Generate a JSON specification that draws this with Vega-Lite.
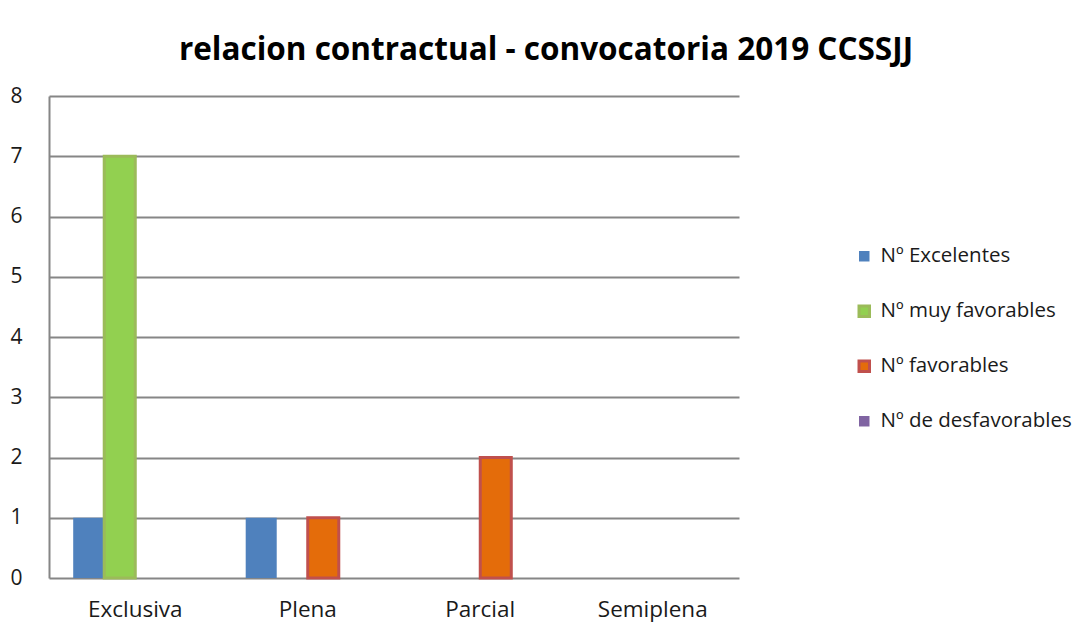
{
  "$schema": "https://vega.github.io/schema/vega-lite/v6.json",
  "width": 690,
  "height": 482,
  "autosize": {"type": "none"},
  "padding": {"left": 49, "top": 96, "right": 337, "bottom": 52},
  "background": "white",
  "title": {
    "text": "relacion contractual - convocatoria 2019 CCSSJJ",
    "font": "Open Sans",
    "fontSize": 31.5,
    "fontWeight": "bold",
    "color": "#000000",
    "anchor": "middle",
    "frame": "group",
    "dx": 152,
    "baseline": "alphabetic",
    "offset": -6
  },
  "data": {
    "values": [
      {"relacion": "Exclusiva", "serie": "Nº Excelentes", "valor": 1},
      {"relacion": "Exclusiva", "serie": "Nº muy favorables", "valor": 7},
      {"relacion": "Exclusiva", "serie": "Nº favorables", "valor": 0},
      {"relacion": "Exclusiva", "serie": "Nº de desfavorables", "valor": 0},
      {"relacion": "Plena", "serie": "Nº Excelentes", "valor": 1},
      {"relacion": "Plena", "serie": "Nº muy favorables", "valor": 0},
      {"relacion": "Plena", "serie": "Nº favorables", "valor": 1},
      {"relacion": "Plena", "serie": "Nº de desfavorables", "valor": 0},
      {"relacion": "Parcial", "serie": "Nº Excelentes", "valor": 0},
      {"relacion": "Parcial", "serie": "Nº muy favorables", "valor": 0},
      {"relacion": "Parcial", "serie": "Nº favorables", "valor": 2},
      {"relacion": "Parcial", "serie": "Nº de desfavorables", "valor": 0},
      {"relacion": "Semiplena", "serie": "Nº Excelentes", "valor": 0},
      {"relacion": "Semiplena", "serie": "Nº muy favorables", "valor": 0},
      {"relacion": "Semiplena", "serie": "Nº favorables", "valor": 0},
      {"relacion": "Semiplena", "serie": "Nº de desfavorables", "valor": 0}
    ]
  },
  "transform": [{"filter": "datum.valor > 0"}],
  "mark": {"type": "bar", "strokeWidth": 3},
  "encoding": {
    "x": {
      "field": "relacion",
      "type": "nominal",
      "sort": ["Exclusiva", "Plena", "Parcial", "Semiplena"],
      "scale": {"domain": ["Exclusiva", "Plena", "Parcial", "Semiplena"], "paddingInner": 0, "paddingOuter": 0},
      "axis": {
        "title": null,
        "labelAngle": 0,
        "labelFont": "Open Sans",
        "labelFontSize": 22.5,
        "labelColor": "#1a1a1a",
        "labelPadding": 20,
        "ticks": false,
        "domain": false,
        "grid": false
      }
    },
    "xOffset": {
      "field": "serie",
      "type": "nominal",
      "scale": {
        "domain": ["Nº Excelentes", "Nº muy favorables", "Nº favorables", "Nº de desfavorables"],
        "paddingOuter": 0.78,
        "paddingInner": 0
      }
    },
    "y": {
      "field": "valor",
      "type": "quantitative",
      "scale": {"domain": [0, 8], "nice": false},
      "axis": {
        "title": null,
        "values": [0, 1, 2, 3, 4, 5, 6, 7, 8],
        "labelFont": "Open Sans",
        "labelFontSize": 21,
        "labelColor": "#1a1a1a",
        "labelAlign": "left",
        "labelPadding": 39,
        "ticks": false,
        "domain": true,
        "domainColor": "#868686",
        "domainWidth": 2,
        "grid": true,
        "gridColor": "#868686",
        "gridWidth": 2
      }
    },
    "color": {
      "field": "serie",
      "type": "nominal",
      "scale": {
        "domain": ["Nº Excelentes", "Nº muy favorables", "Nº favorables", "Nº de desfavorables"],
        "range": ["#4F81BD", "#92D050", "#E46C0A", "#8064A2"]
      },
      "legend": {
        "title": null,
        "orient": "none",
        "legendX": 805,
        "legendY": 150,
        "padding": 0,
        "symbolType": "square",
        "symbolSize": 110,
        "symbolStrokeWidth": 3,
        "labelFont": "Open Sans",
        "labelFontSize": 20.5,
        "labelColor": "#1a1a1a",
        "labelOffset": 6,
        "rowPadding": 32,
        "labelLimit": 300
      }
    },
    "stroke": {
      "field": "serie",
      "type": "nominal",
      "scale": {
        "domain": ["Nº Excelentes", "Nº muy favorables", "Nº favorables", "Nº de desfavorables"],
        "range": ["transparent", "#9BBB59", "#C0504D", "transparent"]
      }
    }
  },
  "config": {
    "view": {"stroke": null},
    "axis": {"gridCap": "butt"}
  }
}
